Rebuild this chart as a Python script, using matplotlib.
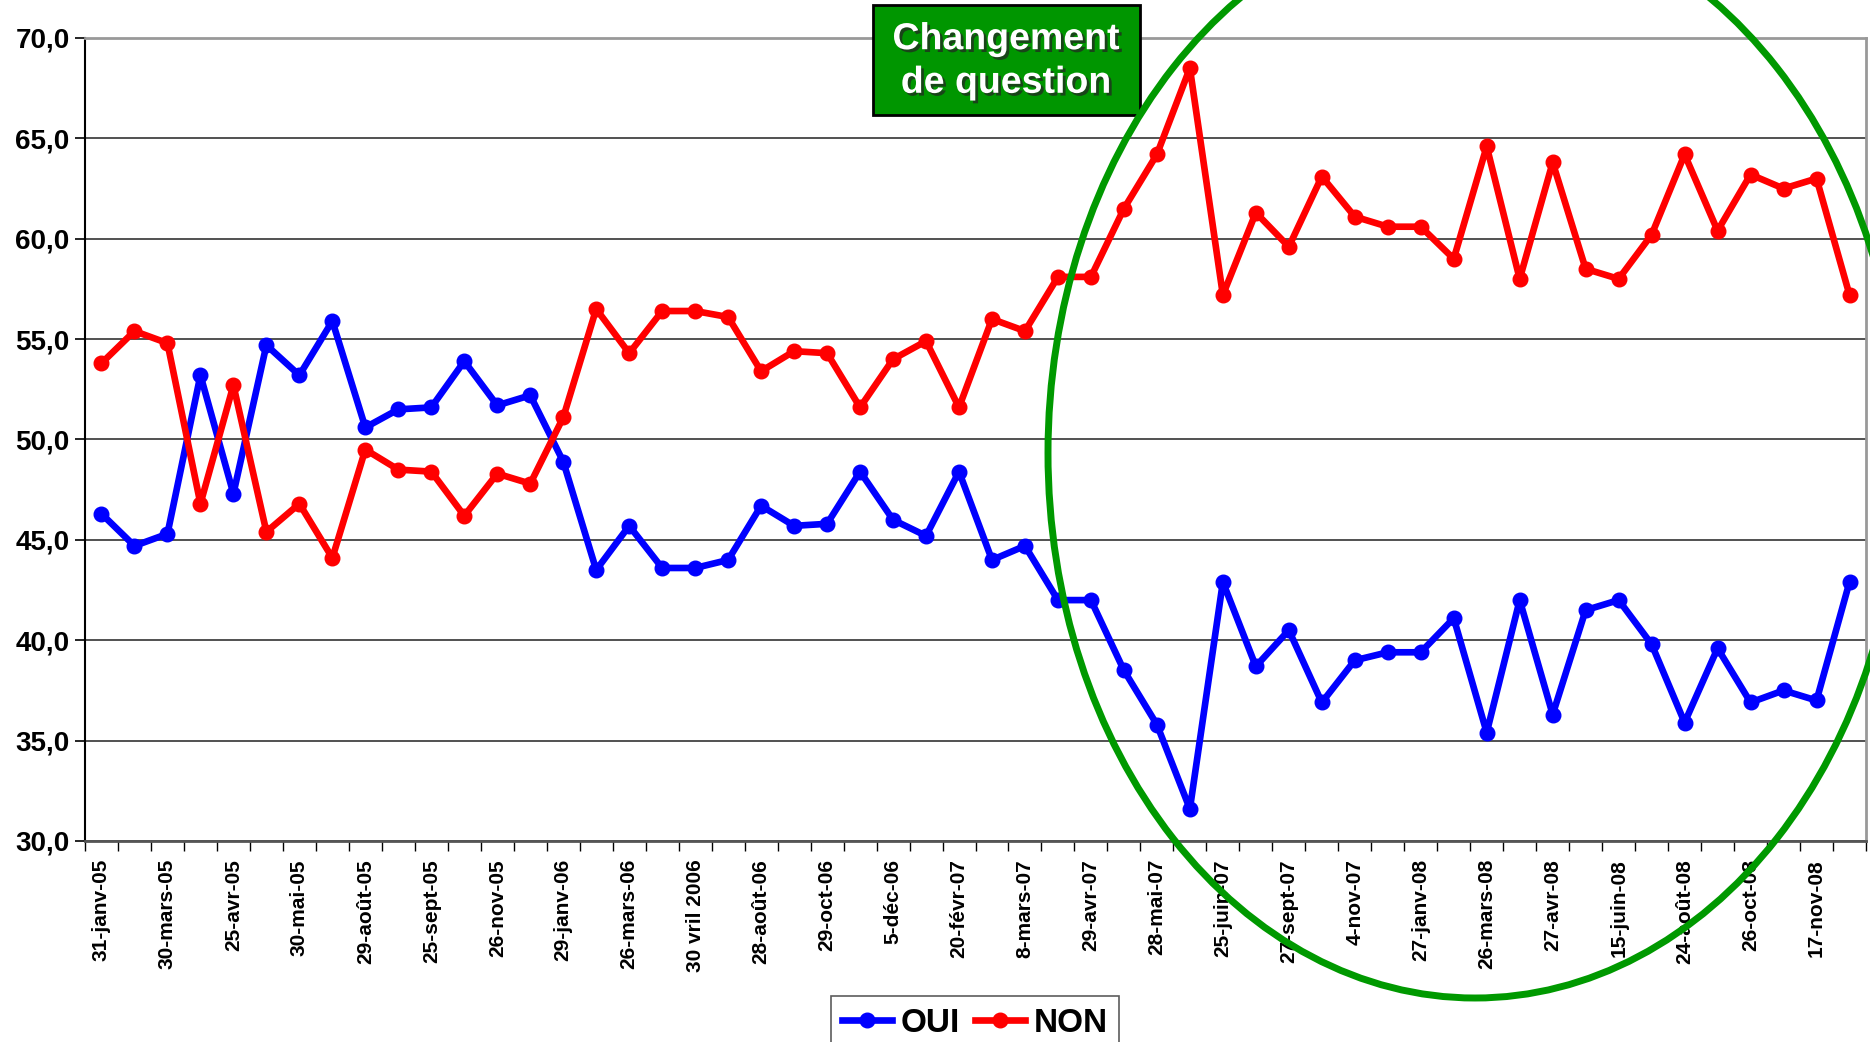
#!/usr/bin/env python
# -*- coding: utf8 -*-

'''
Sondage OUI / NON, 2005-2008, avec changement de question
'''

import matplotlib
matplotlib.use("Agg")
import matplotlib.pyplot as plt
import matplotlib.patheffects as pe
from matplotlib.patches import Ellipse, Rectangle
from matplotlib.ticker import FixedLocator, FuncFormatter

plt.rcParams['font.family'] = ['Liberation Sans', 'DejaVu Sans']
plt.rcParams['font.weight'] = 'bold'

# one value per poll, 54 polls
oui = [46.3, 44.7, 45.3, 53.2, 47.3, 54.7, 53.2, 55.9, 50.6, 51.5,
       51.6, 53.9, 51.7, 52.2, 48.9, 43.5, 45.7, 43.6, 43.6, 44.0,
       46.7, 45.7, 45.8, 48.4, 46.0, 45.2, 48.4, 44.0, 44.7, 42.0,
       42.0, 38.5, 35.8, 31.6, 42.9, 38.7, 40.5, 36.9, 39.0, 39.4,
       39.4, 41.1, 35.4, 42.0, 36.3, 41.5, 42.0, 39.8, 35.9, 39.6,
       36.9, 37.5, 37.0, 42.9]
non = [53.8, 55.4, 54.8, 46.8, 52.7, 45.4, 46.8, 44.1, 49.5, 48.5,
       48.4, 46.2, 48.3, 47.8, 51.1, 56.5, 54.3, 56.4, 56.4, 56.1,
       53.4, 54.4, 54.3, 51.6, 54.0, 54.9, 51.6, 56.0, 55.4, 58.1,
       58.1, 61.5, 64.2, 68.5, 57.2, 61.3, 59.6, 63.1, 61.1, 60.6,
       60.6, 59.0, 64.6, 58.0, 63.8, 58.5, 58.0, 60.2, 64.2, 60.4,
       63.2, 62.5, 63.0, 57.2]

# labels are written under every second poll
date_labels = ["31-janv-05", "30-mars-05", "25-avr-05", "30-mai-05", "29-août-05",
               "25-sept-05", "26-nov-05", "29-janv-06", "26-mars-06", "30 vril 2006",
               "28-août-06", "29-oct-06", "5-déc-06", "20-févr-07", "8-mars-07",
               "29-avr-07", "28-mai-07", "25-juin-07", "27-sept-07", "4-nov-07",
               "27-janv-08", "26-mars-08", "27-avr-08", "15-juin-08", "24-août-08",
               "26-oct-08", "17-nov-08"]

y_ticks = [30, 35, 40, 45, 50, 55, 60, 65, 70]

W, H = 1870, 1042
fig = plt.figure(figsize=(W / 100, H / 100), dpi=100)
ax = fig.add_axes([85 / W, 1 - 841 / H, (1866 - 85) / W, (841 - 38) / H])

x = list(range(len(oui)))
ax.plot(x, oui, color="#0000ff", lw=4.8, marker="o", ms=10.5, label="OUI", zorder=3)
ax.plot(x, non, color="#ff0000", lw=4.8, marker="o", ms=10.5, label="NON", zorder=3)

ax.set_xlim(-0.5, len(oui) - 0.5)
ax.set_ylim(30, 70)

ax.set_yticks(y_ticks)
ax.yaxis.set_major_formatter(FuncFormatter(lambda v, p: f"{v:.1f}".replace(".", ",")))
ax.tick_params(axis="y", labelsize=20, length=7, width=1.2, direction="out", pad=4)
ax.grid(axis="y", color="#333333", lw=1.2)
ax.set_axisbelow(True)

ax.xaxis.set_major_locator(FixedLocator(x[::2]))
ax.set_xticklabels(date_labels, rotation=90, fontsize=15, fontweight="bold")
ax.xaxis.set_minor_locator(FixedLocator([i - 0.5 for i in range(len(oui) + 1)]))
ax.tick_params(axis="x", which="major", length=0, pad=13)
ax.tick_params(axis="x", which="minor", length=7, width=1.0, direction="out")

ax.spines["left"].set_color("black")
ax.spines["left"].set_linewidth(1.5)
ax.spines["bottom"].set_color("#555555")
ax.spines["bottom"].set_linewidth(2)
ax.spines["top"].set_color("#999999")
ax.spines["top"].set_linewidth(2)
ax.spines["right"].set_color("#999999")
ax.spines["right"].set_linewidth(2)

# green box on top
box = Rectangle((873 / W, 1 - 115 / H), (1140 - 873) / W, 110 / H,
                transform=fig.transFigure, facecolor="#009600", edgecolor="black",
                lw=2, zorder=10)
fig.add_artist(box)
txt = fig.text(1006 / W, 1 - 61 / H, "Changement\nde question", color="white",
               fontsize=27, fontweight="bold", ha="center", va="center",
               linespacing=1.27, zorder=11)
txt.set_path_effects([pe.withSimplePatchShadow(offset=(2, -2), shadow_rgbFace="#203020", alpha=0.8)])

# circle around the new question period
circle = Ellipse((1475 / W, 1 - 453 / H), 854 / W, 1090 / H, transform=fig.transFigure,
                 fill=False, edgecolor="#009900", lw=5, zorder=12)
fig.add_artist(circle)

leg = fig.legend(loc="upper center", bbox_to_anchor=(975 / W, 1 - 996 / H), ncol=2,
                 frameon=True, fancybox=False, edgecolor="#333333", borderaxespad=0,
                 handlelength=1.5, columnspacing=0.45, handletextpad=0.25, borderpad=0.35,
                 prop={"weight": "bold", "size": 24})
leg.get_frame().set_linewidth(1.2)

plt.savefig("out.png", dpi=100)
